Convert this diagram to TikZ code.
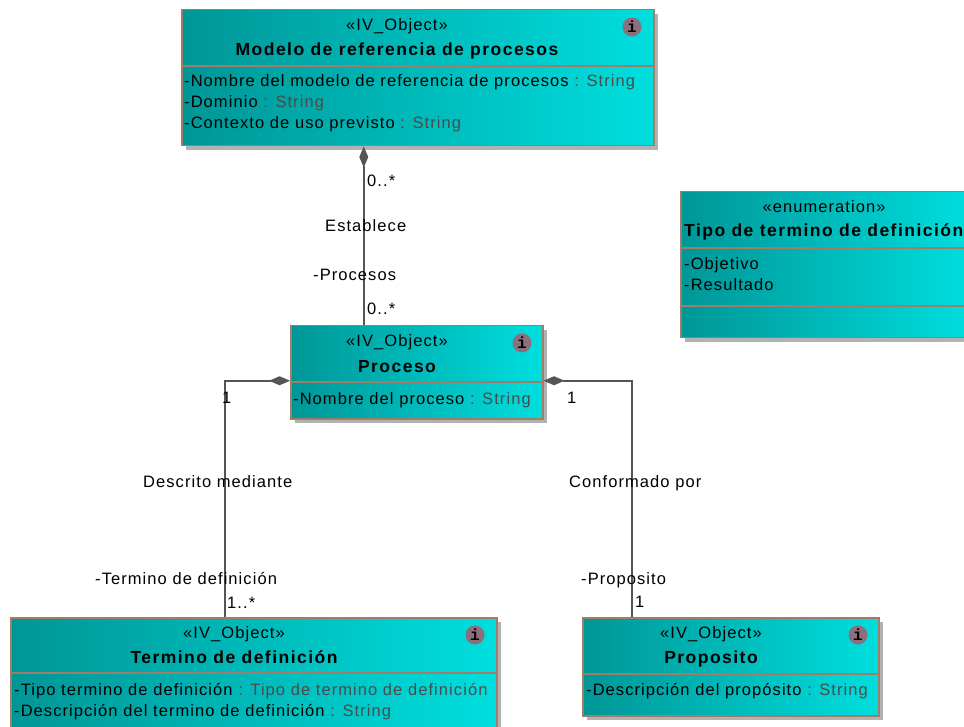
\documentclass[tikz,border=0pt]{standalone}
\usepackage{fontspec}
\setmainfont{Liberation Sans}[LetterSpace=6.5]
\newfontfamily\clsbold{Liberation Sans}[LetterSpace=8.4]
\newfontfamily\infofont{Liberation Mono}
\usetikzlibrary{arrows.meta,shadows,positioning}

\definecolor{clsdark}{RGB}{0,150,150}
\definecolor{clslight}{RGB}{0,222,222}
\definecolor{clsborder}{RGB}{160,125,105}
\definecolor{typegray}{RGB}{75,75,75}
\definecolor{linkgray}{RGB}{85,85,85}
\definecolor{infopink}{RGB}{140,110,125}

\tikzset{
  umlclass/.style={draw=clsborder, line width=1.5pt, left color=clsdark, right color=clslight,
    anchor=north west, inner sep=0pt,
    drop shadow={shadow xshift=4pt, shadow yshift=-4pt, fill=black!30, opacity=1}},
  clsline/.style={draw=clsborder, line width=1.5pt},
  stereo/.style={anchor=base, inner sep=0pt, font=\fontsize{16.5}{21}\selectfont},
  clstitle/.style={anchor=base, inner sep=0pt, font=\fontsize{17.5}{21}\selectfont\clsbold\bfseries},
  attr/.style={anchor=base west, inner sep=0pt, font=\fontsize{16.5}{21}\selectfont},
  lbl/.style={anchor=base west, inner sep=0pt, font=\fontsize{16.5}{21}\selectfont},
  infoicon/.style={circle, fill=infopink, inner sep=0pt, minimum size=19pt,
    font=\fontsize{16}{16}\selectfont\infofont\bfseries},
  assoc/.style={draw=linkgray, line width=1.5pt},
  comp/.style={assoc, {Diamond[length=21pt,width=9pt]}-},
}

\begin{document}
\begin{tikzpicture}[x=1pt,y=-1pt]
  \path[use as bounding box] (0,0) rectangle (964,727);
  \clip (0,0) rectangle (964,727);

  % classes
  \node[umlclass, minimum width=472pt, minimum height=136pt] (modelo) at (181,9) {};
  \node[umlclass, minimum width=290pt, minimum height=146pt] (tipo) at (680,191) {};
  \node[umlclass, minimum width=252pt, minimum height=93pt] (proceso) at (290,325) {};
  \node[umlclass, minimum width=486pt, minimum height=130pt] (termino) at (10,617) {};
  \node[umlclass, minimum width=296pt, minimum height=98pt] (proposito) at (582,617) {};

  \draw[clsline] (modelo.west |- 0,66) -- (modelo.east |- 0,66);
  \draw[clsline] (tipo.west |- 0,248) -- (tipo.east |- 0,248);
  \draw[clsline] (tipo.west |- 0,306) -- (tipo.east |- 0,306);
  \draw[clsline] (proceso.west |- 0,382) -- (proceso.east |- 0,382);
  \draw[clsline] (termino.west |- 0,673) -- (termino.east |- 0,673);
  \draw[clsline] (proposito.west |- 0,674) -- (proposito.east |- 0,674);

  % Modelo de referencia de procesos
  \node[stereo] (modeloS) at (397,31) {«IV\_Object»};
  \node[clstitle] (modeloT) at (397,56) {Modelo de referencia de procesos};
  \node[attr] (modeloA1) at (184,87) {-Nombre del modelo de referencia de procesos \textcolor{typegray}{: String}};
  \node[attr] (modeloA2) at (184,108) {-Dominio \textcolor{typegray}{: String}};
  \node[attr] (modeloA3) at (184,129) {-Contexto de uso previsto \textcolor{typegray}{: String}};
  \node[infoicon] (modeloI) at (632,27) {i};

  % Tipo de termino de definicion
  \node[stereo] (tipoS) at (824,213) {«enumeration»};
  \node[clstitle, anchor=base west] (tipoT) at (684,237) {Tipo de termino de definición};
  \node[attr] (tipoA1) at (684,270) {-Objetivo};
  \node[attr] (tipoA2) at (684,291) {-Resultado};

  % Proceso
  \node[stereo] (procesoS) at (397,347) {«IV\_Object»};
  \node[clstitle] (procesoT) at (397,372) {Proceso};
  \node[attr] (procesoA1) at (293,404) {-Nombre del proceso \textcolor{typegray}{: String}};
  \node[infoicon] (procesoI) at (522,343) {i};

  % Termino de definicion
  \node[stereo] (terminoS) at (234,638) {«IV\_Object»};
  \node[clstitle] (terminoT) at (234,663) {Termino de definición};
  \node[attr] (terminoA1) at (14,695) {-Tipo termino de definición \textcolor{typegray}{: Tipo de termino de definición}};
  \node[attr] (terminoA2) at (14,716) {-Descripción del termino de definición \textcolor{typegray}{: String}};
  \node[infoicon] (terminoI) at (475,635) {i};

  % Proposito
  \node[stereo] (propositoS) at (711,638) {«IV\_Object»};
  \node[clstitle] (propositoT) at (711,663) {Proposito};
  \node[attr] (propositoA1) at (586,695) {-Descripción del propósito \textcolor{typegray}{: String}};
  \node[infoicon] (propositoI) at (858,635) {i};

  % associations
  \draw[comp] ([xshift=-54pt]modelo.south) -- ([xshift=-53pt]proceso.north);
  \draw[comp] ([yshift=-8.5pt]proceso.west) -| ([xshift=-29pt]termino.north);
  \draw[comp] ([yshift=-8.5pt]proceso.east) -| ([xshift=-99pt]proposito.north);

  \node[lbl] (m1) at (367,187) {0..*};
  \node[lbl] (establece) at (325,232) {Establece};
  \node[lbl] (rprocesos) at (313,281) {-Procesos};
  \node[lbl] (m2) at (367,315) {0..*};
  \node[lbl] (m3) at (222,403) {1};
  \node[lbl] (m4) at (567,403) {1};
  \node[lbl] (descrito) at (143,487) {Descrito mediante};
  \node[lbl] (conformado) at (569,487) {Conformado por};
  \node[lbl] (rtermino) at (95,584) {-Termino de definición};
  \node[lbl] (m5) at (227,608) {1..*};
  \node[lbl] (rproposito) at (581,584) {-Proposito};
  \node[lbl] (m6) at (635,607) {1};
\end{tikzpicture}
\end{document}
